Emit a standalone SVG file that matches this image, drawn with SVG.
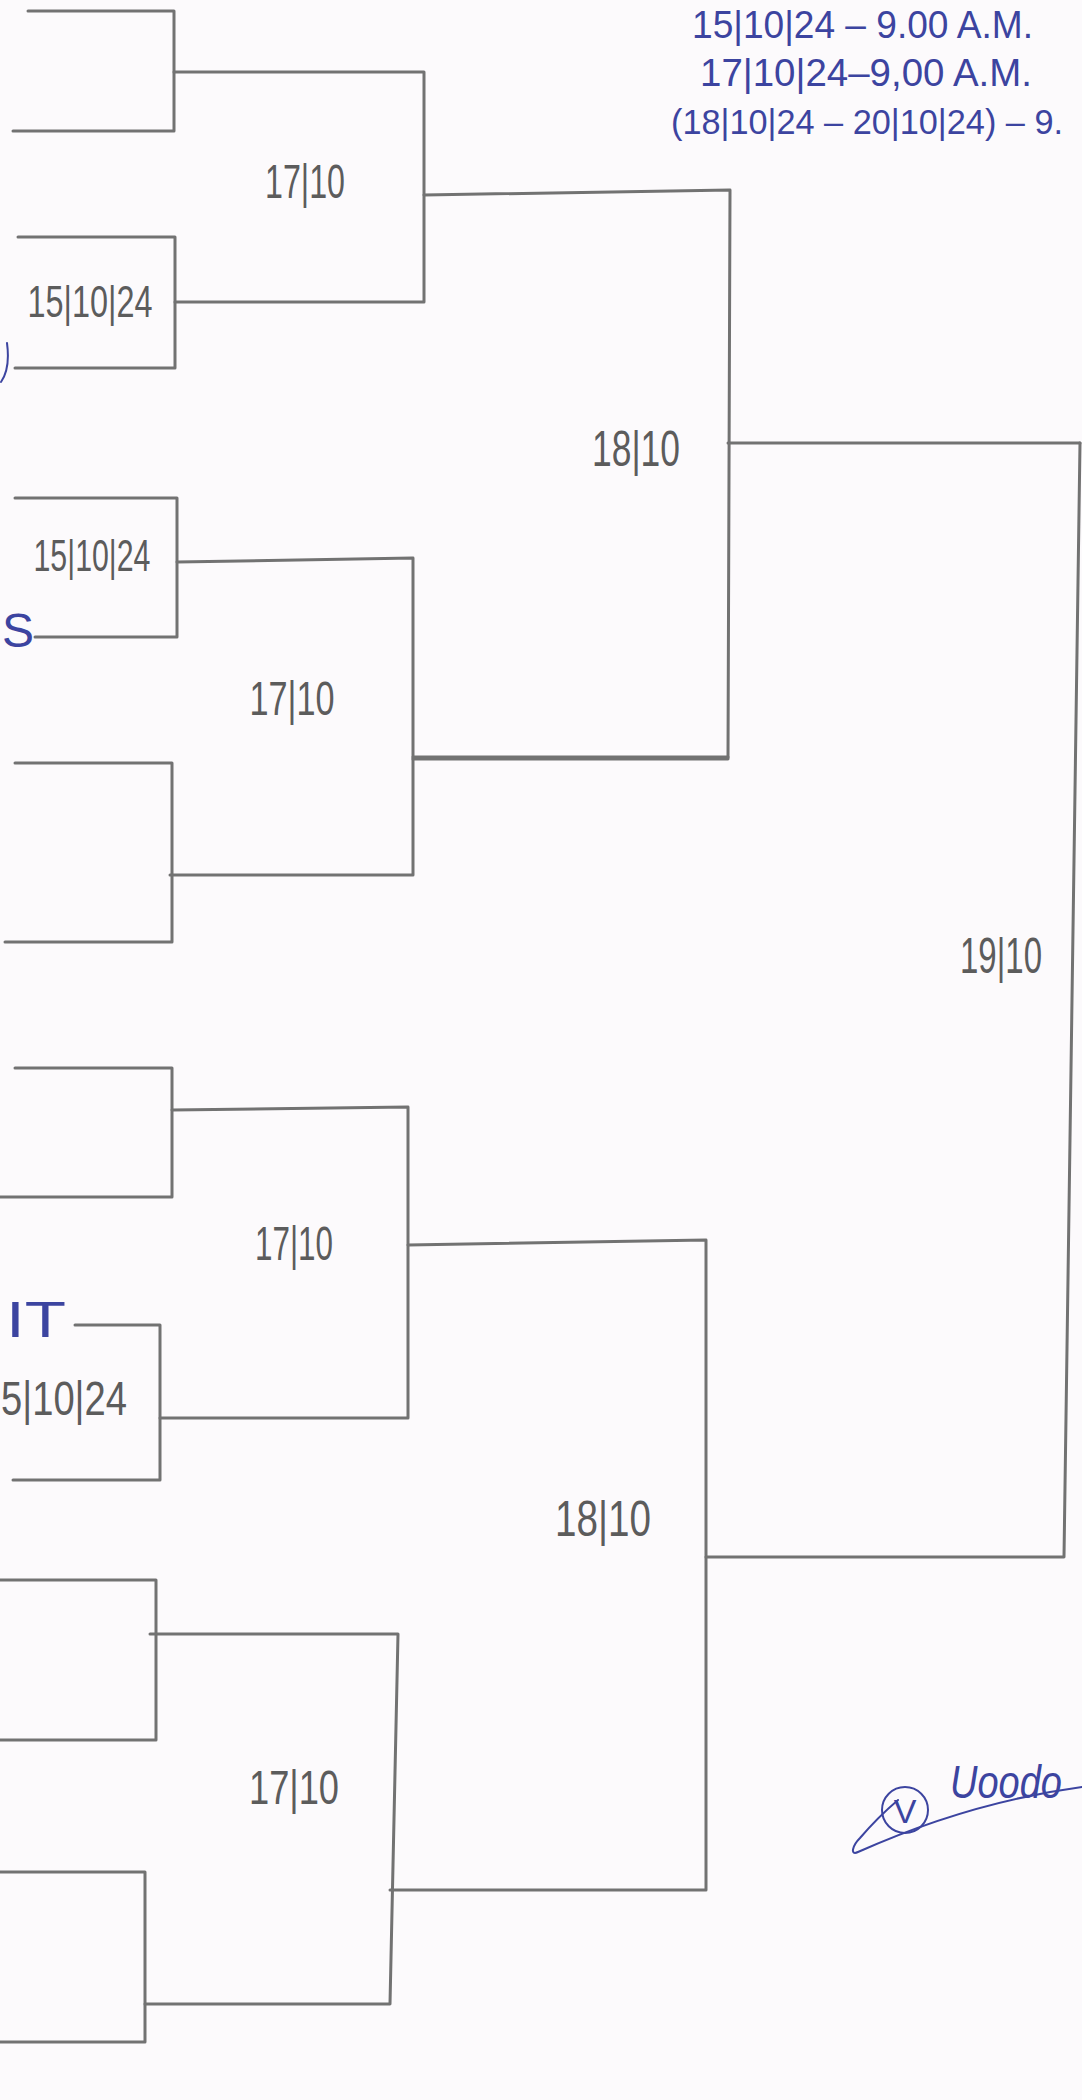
<svg xmlns="http://www.w3.org/2000/svg" width="1082" height="2100" viewBox="0 0 1082 2100">
<style>
.ln{fill:none;stroke:#727272;stroke-width:3;stroke-linecap:round;stroke-linejoin:round}
.pen{font-family:"Liberation Sans","DejaVu Sans",sans-serif;fill:#5c5c5c;text-anchor:middle}
.ink{font-family:"Liberation Sans","DejaVu Sans",sans-serif;fill:#3c44a0}
.inkln{fill:none;stroke:#3c44a0;stroke-width:2;stroke-linecap:round}
</style>
<rect width="1082" height="2100" fill="#fcfafc"/>
<g id="schedule">
<text class="ink" x="692" y="38" font-size="38" textLength="341" lengthAdjust="spacingAndGlyphs">15|10|24 – 9.00 A.M.</text>
<text class="ink" x="700" y="86" font-size="38" textLength="332" lengthAdjust="spacingAndGlyphs">17|10|24–9,00 A.M.</text>
<text class="ink" x="671" y="134" font-size="35" textLength="392" lengthAdjust="spacingAndGlyphs">(18|10|24 – 20|10|24) – 9.</text>
</g>
<g id="connectors">
<polyline class="ln" points="28,11 174,11 174,131 13,131"/>
<polyline class="ln" points="18,237 175,237 175,368 15,368"/>
<polyline class="ln" points="174,72 424,72 424,302 175,302"/>
<polyline class="ln" points="15,498 177,498 177,637 35,637"/>
<polyline class="ln" points="15,763 172,763 172,942 5,942"/>
<polyline class="ln" points="177,562 413,558 413,875 170,875"/>
<polyline class="ln" points="15,1068 172,1068 172,1197 0,1197"/>
<polyline class="ln" points="75,1325 160,1325 160,1480 13,1480"/>
<polyline class="ln" points="172,1110 408,1107 408,1418 160,1418"/>
<polyline class="ln" points="0,1580 156,1580 156,1740 0,1740"/>
<polyline class="ln" points="0,1872 145,1872 145,2042 0,2042"/>
<polyline class="ln" points="150,1634 398,1634 390,2004 145,2004"/>
<polyline class="ln" points="424,195 730,190 728,759 413,759"/>
<line class="ln" x1="413" y1="757" x2="728" y2="757"/>
<polyline class="ln" points="408,1245 706,1240 706,1890 390,1890"/>
<line class="ln" x1="728" y1="443" x2="1080" y2="443"/>
<polyline class="ln" points="1080,443 1064,1557 706,1557"/>
</g>
<g id="match-r1-1"><text class="pen" x="90" y="317" font-size="44" textLength="125" lengthAdjust="spacingAndGlyphs">15|10|24</text></g>
<g id="match-r1-2"><text class="pen" x="92" y="571" font-size="44" textLength="117" lengthAdjust="spacingAndGlyphs">15|10|24</text></g>
<g id="match-r1-3"><text class="pen" x="64" y="1415" font-size="48" textLength="126" lengthAdjust="spacingAndGlyphs">5|10|24</text></g>
<g id="qf-1"><text class="pen" x="305" y="198" font-size="48" textLength="80" lengthAdjust="spacingAndGlyphs">17|10</text></g>
<g id="qf-2"><text class="pen" x="292" y="715" font-size="48" textLength="85" lengthAdjust="spacingAndGlyphs">17|10</text></g>
<g id="qf-3"><text class="pen" x="294" y="1260" font-size="48" textLength="78" lengthAdjust="spacingAndGlyphs">17|10</text></g>
<g id="qf-4"><text class="pen" x="294" y="1804" font-size="48" textLength="90" lengthAdjust="spacingAndGlyphs">17|10</text></g>
<g id="sf-1"><text class="pen" x="636" y="466" font-size="50" textLength="88" lengthAdjust="spacingAndGlyphs">18|10</text></g>
<g id="sf-2"><text class="pen" x="603" y="1536" font-size="50" textLength="96" lengthAdjust="spacingAndGlyphs">18|10</text></g>
<g id="final"><text class="pen" x="1001" y="973" font-size="50" textLength="82" lengthAdjust="spacingAndGlyphs">19|10</text></g>
<g id="team-marks">
<path class="inkln" d="M7,343 C9,358 8,372 1,382"/>
<text class="ink" x="2" y="647" font-size="48">S</text>
<text class="ink" x="6" y="1337" font-size="50" textLength="60" lengthAdjust="spacingAndGlyphs">IT</text>
</g>
<g id="signature">
<circle cx="905" cy="1810" r="23" class="inkln"/>
<text class="ink" x="905" y="1823" font-size="34" text-anchor="middle">V</text>
<text class="ink" x="950" y="1798" font-size="46" font-style="italic" textLength="112" lengthAdjust="spacingAndGlyphs">Uoodo</text>
<path class="inkln" d="M1082,1787 C1000,1798 925,1822 858,1852 C850,1856 852,1846 860,1838 C872,1824 884,1812 898,1800"/>
</g>
</svg>
